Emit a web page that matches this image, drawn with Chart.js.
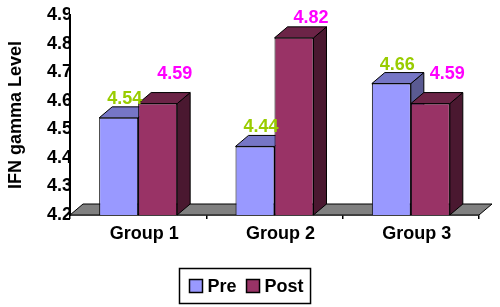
<!DOCTYPE html>
<html><head><meta charset="utf-8">
<script src="https://cdn.jsdelivr.net/npm/chart.js@4.4.0/dist/chart.umd.min.js"></script>
<style>html,body{margin:0;padding:0;background:#fff}#wrap{width:500px;height:307px;position:relative}</style>
</head><body><div id="wrap"><canvas id="c"></canvas></div>
<script>
// ---- data ----
const categories = ['Group 1', 'Group 2', 'Group 3'];
const seriesNames = ['Pre', 'Post'];
const preValues = [4.54, 4.44, 4.66];
const postValues = [4.59, 4.82, 4.59];
const yMin = 4.2, yMax = 4.9, yStep = 0.1;
const yTitle = 'IFN gamma Level';

// ---- style ----
const FONT = '"Liberation Sans", Arial, sans-serif';
const DEPTH = {dx: 13, dy: 11};
const faces = [
  {front: '#9999FF', top: '#7676C6', side: '#5A5A92', label: '#99CC00', ldx: 6, ldy: -19},
  {front: '#993366', top: '#6C2447', side: '#4A1830', label: '#FF00FF', ldx: 17, ldy: -30}
];

function poly(ctx, pts, fill) {
  ctx.beginPath();
  ctx.moveTo(pts[0][0], pts[0][1]);
  for (let k = 1; k < pts.length; k++) ctx.lineTo(pts[k][0], pts[k][1]);
  ctx.closePath();
  ctx.fillStyle = fill; ctx.fill();
  ctx.lineWidth = 1; ctx.strokeStyle = '#000'; ctx.stroke();
}

const threeD = {
  id: 'threeD',
  beforeDatasetsDraw(chart) {
    const ctx = chart.ctx, a = chart.chartArea, {dx, dy} = DEPTH;
    ctx.save();
    poly(ctx, [[a.left, a.bottom], [a.right, a.bottom], [a.right + dx, a.bottom - dy], [a.left + dx, a.bottom - dy]], '#808080');
    chart.data.datasets.forEach((ds, i) => {
      chart.getDatasetMeta(i).data.forEach(bar => {
        const p = bar.getProps(['x', 'y', 'base', 'width'], true);
        const base = Math.min(p.base, a.bottom);
        const l = p.x - p.width / 2, r = p.x + p.width / 2;
        poly(ctx, [[r, p.y], [r + dx, p.y - dy], [r + dx, base - dy], [r, base]], faces[i].side);
        poly(ctx, [[l, p.y], [r, p.y], [r + dx, p.y - dy], [l + dx, p.y - dy]], faces[i].top);
      });
    });
    ctx.restore();
  },
  afterDatasetsDraw(chart) {
    const ctx = chart.ctx, a = chart.chartArea;
    ctx.save();
    ctx.font = 'bold 18px ' + FONT;
    ctx.textAlign = 'center';
    ctx.textBaseline = 'middle';
    chart.data.datasets.forEach((ds, i) => {
      chart.getDatasetMeta(i).data.forEach((bar, j) => {
        const p = bar.getProps(['x', 'y'], true);
        ctx.fillStyle = faces[i].label;
        ctx.fillText(ds.data[j].toFixed(2), p.x + faces[i].ldx, Math.max(p.y + faces[i].ldy, a.top + 3));
      });
    });
    ctx.restore();
  },
  afterDraw(chart) {
    // legend with border
    const ctx = chart.ctx;
    ctx.save();
    ctx.font = 'bold 18px ' + FONT;
    const sq = 13, gapTxt = 5, gapItem = 10, padL = 10, padR = 7;
    const items = chart.data.datasets.map((ds, i) => ({text: ds.label, color: faces[i].front, w: ctx.measureText(ds.label).width}));
    let total = padL + padR;
    items.forEach((it, k) => { total += sq + gapTxt + it.w + (k ? gapItem : 0); });
    const cx = 244.5, top = 268, h = 35;
    const left = Math.round(cx - total / 2) + 0.5;
    ctx.fillStyle = '#fff';
    ctx.fillRect(left, top + 0.5, total, h);
    ctx.lineWidth = 1.5; ctx.strokeStyle = '#000';
    ctx.strokeRect(left, top + 0.5, total, h);
    let x = left + padL;
    const cy = top + h / 2 + 0.5;
    ctx.textBaseline = 'middle'; ctx.textAlign = 'left';
    items.forEach((it, k) => {
      if (k) x += gapItem;
      ctx.fillStyle = it.color;
      ctx.fillRect(x, cy - sq / 2, sq, sq);
      ctx.lineWidth = 1.5;
      ctx.strokeRect(x, cy - sq / 2, sq, sq);
      x += sq + gapTxt;
      ctx.fillStyle = '#000';
      ctx.fillText(it.text, x, cy + 1);
      x += it.w;
    });
    ctx.restore();
  }
};

new Chart(document.getElementById('c'), {
  type: 'bar',
  data: {
    labels: categories,
    datasets: [
      {label: seriesNames[0], data: preValues, backgroundColor: faces[0].front, borderColor: '#000', borderWidth: 1, borderSkipped: false},
      {label: seriesNames[1], data: postValues, backgroundColor: faces[1].front, borderColor: '#000', borderWidth: 1, borderSkipped: false}
    ]
  },
  options: {
    responsive: true,
    maintainAspectRatio: false,
    animation: false,
    events: [],
    layout: {padding: {left: 0, top: 15, right: 21, bottom: 0}},
    datasets: {bar: {categoryPercentage: 0.572, barPercentage: 1.0}},
    plugins: {legend: {display: false}, tooltip: {enabled: false}},
    scales: {
      x: {
        grid: {display: true, drawOnChartArea: false, drawTicks: true, tickLength: 4, color: '#000', lineWidth: 1.5, offset: true},
        border: {display: true, color: '#000', width: 1.5},
        ticks: {color: '#000', font: {family: FONT, size: 18, weight: 'bold'}, padding: 4, labelOffset: 6, maxRotation: 0},
        afterFit(s) { s.height = 92; }
      },
      y: {
        min: yMin, max: yMax,
        grid: {display: false, drawTicks: false},
        border: {display: true, color: '#000', width: 2},
        ticks: {stepSize: yStep, color: '#000', font: {family: FONT, size: 18, weight: 'bold'}, padding: -2,
          callback: v => Number(v).toFixed(1)},
        title: {display: true, text: yTitle, color: '#000', font: {family: FONT, size: 18, weight: 'bold'}, padding: {top: 5, bottom: 0}},
        afterFit(s) { s.width = 70; }
      }
    }
  },
  plugins: [threeD]
});
</script>
</body></html>
